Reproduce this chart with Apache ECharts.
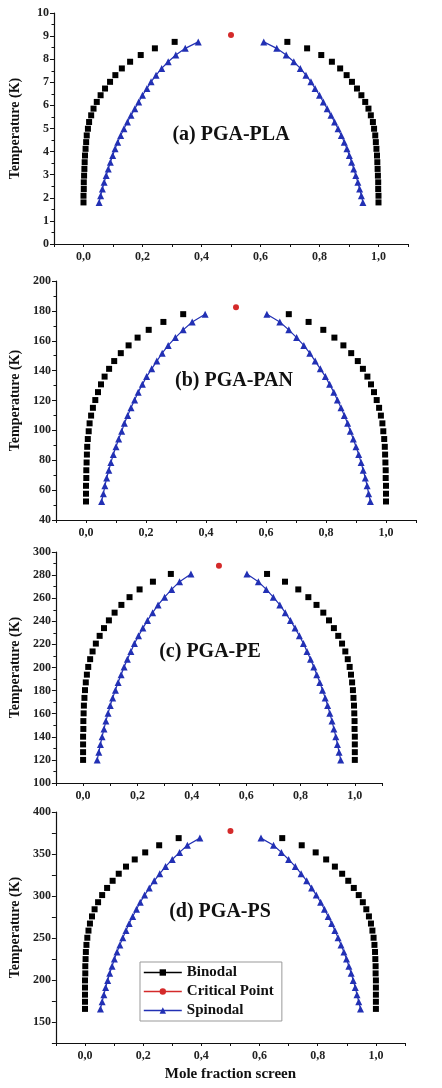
<!DOCTYPE html>
<html>
<head>
<meta charset="utf-8">
<script src="https://cdn.jsdelivr.net/npm/echarts@6/dist/echarts.min.js"></script>
<style>
html,body{margin:0;padding:0;background:#fff;}
#chart{width:442px;height:1088px;}
</style>
</head>
<body>
<div id="chart"></div>
<script>
// ---------- DATA ----------
var xTickLabels = [0, 0.2, 0.4, 0.6, 0.8, 1.0];

// (a) PGA-PLA
var T_a = [1.80, 2.09, 2.38, 2.67, 2.96, 3.25, 3.54, 3.83, 4.12, 4.41, 4.70, 4.99, 5.28, 5.57, 5.86, 6.15, 6.44, 6.73, 7.02, 7.31, 7.60, 7.89, 8.18, 8.47, 8.75];
var binL_a = [0.000, 0.000, 0.001, 0.001, 0.002, 0.003, 0.004, 0.005, 0.007, 0.009, 0.011, 0.015, 0.019, 0.026, 0.034, 0.045, 0.058, 0.073, 0.090, 0.108, 0.130, 0.158, 0.194, 0.242, 0.309];
var binR_a = [1.000, 1.000, 0.999, 0.999, 0.998, 0.997, 0.996, 0.995, 0.993, 0.991, 0.989, 0.985, 0.981, 0.974, 0.966, 0.955, 0.942, 0.927, 0.910, 0.892, 0.870, 0.842, 0.806, 0.758, 0.691];
var spinL_a = [0.053, 0.058, 0.064, 0.070, 0.077, 0.084, 0.091, 0.099, 0.107, 0.116, 0.126, 0.137, 0.149, 0.161, 0.174, 0.187, 0.200, 0.215, 0.229, 0.246, 0.265, 0.287, 0.313, 0.345, 0.389];
var spinR_a = [0.947, 0.942, 0.936, 0.930, 0.923, 0.916, 0.909, 0.901, 0.893, 0.884, 0.874, 0.863, 0.851, 0.839, 0.826, 0.813, 0.800, 0.785, 0.771, 0.754, 0.735, 0.713, 0.687, 0.655, 0.611];
var crit_a = [0.5, 9.05];
var yTicks_a = [0, 1, 2, 3, 4, 5, 6, 7, 8, 9, 10];

// (b) PGA-PAN
var T_b = [52.4, 57.6, 62.9, 68.1, 73.3, 78.5, 83.8, 89.0, 94.2, 99.4, 104.7, 109.9, 115.1, 120.3, 125.6, 130.8, 136.0, 141.2, 146.4, 151.7, 156.9, 162.1, 167.3, 172.6, 177.8];
var binL_b = [0.000, 0.000, 0.000, 0.001, 0.001, 0.002, 0.003, 0.004, 0.006, 0.009, 0.012, 0.017, 0.023, 0.031, 0.040, 0.050, 0.062, 0.077, 0.094, 0.116, 0.142, 0.172, 0.209, 0.258, 0.324];
var binR_b = [1.000, 1.000, 1.000, 0.999, 0.999, 0.998, 0.997, 0.996, 0.994, 0.991, 0.988, 0.983, 0.977, 0.969, 0.960, 0.950, 0.938, 0.923, 0.906, 0.884, 0.858, 0.828, 0.791, 0.742, 0.676];
var spinL_b = [0.052, 0.058, 0.063, 0.069, 0.076, 0.083, 0.091, 0.100, 0.109, 0.119, 0.128, 0.139, 0.150, 0.162, 0.174, 0.188, 0.202, 0.219, 0.236, 0.254, 0.274, 0.298, 0.324, 0.354, 0.397];
var spinR_b = [0.948, 0.942, 0.937, 0.931, 0.924, 0.917, 0.909, 0.900, 0.891, 0.881, 0.872, 0.861, 0.850, 0.838, 0.826, 0.812, 0.798, 0.781, 0.764, 0.746, 0.726, 0.702, 0.676, 0.646, 0.603];
var crit_b = [0.5, 182.5];
var yTicks_b = [40, 60, 80, 100, 120, 140, 160, 180, 200];

// (c) PGA-PE
var T_c = [120.0, 126.7, 133.4, 140.1, 146.8, 153.6, 160.3, 167.0, 173.7, 180.4, 187.1, 193.8, 200.5, 207.2, 213.9, 220.7, 227.4, 234.1, 240.8, 247.5, 254.2, 260.9, 267.6, 274.3, 281.0];
var binL_c = [0.000, 0.000, 0.000, 0.000, 0.001, 0.001, 0.002, 0.003, 0.005, 0.007, 0.010, 0.014, 0.019, 0.026, 0.035, 0.047, 0.061, 0.077, 0.095, 0.116, 0.141, 0.171, 0.208, 0.257, 0.323];
var binR_c = [1.000, 1.000, 1.000, 1.000, 0.999, 0.999, 0.998, 0.997, 0.995, 0.993, 0.990, 0.986, 0.981, 0.974, 0.965, 0.953, 0.939, 0.923, 0.905, 0.884, 0.859, 0.829, 0.792, 0.743, 0.677];
var spinL_c = [0.052, 0.058, 0.064, 0.070, 0.077, 0.084, 0.092, 0.100, 0.109, 0.119, 0.129, 0.140, 0.151, 0.163, 0.176, 0.189, 0.204, 0.220, 0.237, 0.256, 0.276, 0.300, 0.326, 0.355, 0.397];
var spinR_c = [0.948, 0.942, 0.936, 0.930, 0.923, 0.916, 0.908, 0.900, 0.891, 0.881, 0.871, 0.860, 0.849, 0.837, 0.824, 0.811, 0.796, 0.780, 0.763, 0.744, 0.724, 0.700, 0.674, 0.645, 0.603];
var crit_c = [0.5, 288.0];
var yTicks_c = [100, 120, 140, 160, 180, 200, 220, 240, 260, 280, 300];

// (d) PGA-PS
var T_d = [165.6, 174.1, 182.5, 191.0, 199.5, 207.9, 216.4, 224.9, 233.4, 241.8, 250.3, 258.8, 267.2, 275.7, 284.2, 292.6, 301.1, 309.6, 318.1, 326.5, 335.0, 343.5, 351.9, 360.4, 368.9];
var binL_d = [0.000, 0.000, 0.000, 0.000, 0.000, 0.001, 0.001, 0.002, 0.003, 0.005, 0.008, 0.012, 0.017, 0.024, 0.033, 0.045, 0.059, 0.076, 0.095, 0.116, 0.141, 0.171, 0.207, 0.255, 0.322];
var binR_d = [1.000, 1.000, 1.000, 1.000, 1.000, 0.999, 0.999, 0.998, 0.997, 0.995, 0.992, 0.988, 0.983, 0.976, 0.967, 0.955, 0.941, 0.924, 0.905, 0.884, 0.859, 0.829, 0.793, 0.745, 0.678];
var spinL_d = [0.053, 0.059, 0.065, 0.071, 0.078, 0.085, 0.093, 0.101, 0.110, 0.120, 0.130, 0.141, 0.152, 0.164, 0.177, 0.190, 0.205, 0.221, 0.238, 0.257, 0.277, 0.300, 0.325, 0.352, 0.395];
var spinR_d = [0.947, 0.941, 0.935, 0.929, 0.922, 0.915, 0.907, 0.899, 0.890, 0.880, 0.870, 0.859, 0.848, 0.836, 0.823, 0.810, 0.795, 0.779, 0.762, 0.743, 0.723, 0.700, 0.675, 0.648, 0.605];
var crit_d = [0.5, 377.5];
var yTicks_d = [150, 200, 250, 300, 350, 400];

var panelTitles = ['(a) PGA-PLA', '(b) PGA-PAN', '(c) PGA-PE', '(d) PGA-PS'];
var seriesNames = ['Binodal', 'Critical Point', 'Spinodal'];

// ---------- LAYOUT / STYLE ----------
var SERIF = '"Liberation Serif","DejaVu Serif",serif';
var panels = [
  {T: T_a, bL: binL_a, bR: binR_a, sL: spinL_a, sR: spinR_a, c: crit_a, yt: yTicks_a,
   ymin: 0, ymax: 10, yint: 1, minor: true, grid: {left: 53, top: 13, width: 355, height: 231}, title: [231, 135]},
  {T: T_b, bL: binL_b, bR: binR_b, sL: spinL_b, sR: spinR_b, c: crit_b, yt: yTicks_b,
   ymin: 40, ymax: 200, yint: 20, minor: true, grid: {left: 56, top: 281, width: 360, height: 239}, title: [234, 381]},
  {T: T_c, bL: binL_c, bR: binR_c, sL: spinL_c, sR: spinR_c, c: crit_c, yt: yTicks_c,
   ymin: 100, ymax: 300, yint: 20, minor: true, grid: {left: 54, top: 552, width: 328, height: 231}, title: [210, 652]},
  {T: T_d, bL: binL_d, bR: binR_d, sL: spinL_d, sR: spinR_d, c: crit_d, yt: yTicks_d,
   ymin: 125, ymax: 400, yint: 25, minor: false, grid: {left: 51, top: 812, width: 354, height: 231}, title: [220, 912]}
];

function zip(xs, ys) { return xs.map(function (x, i) { return [x, ys[i]]; }); }
function fmt(v) { return v.toFixed(1).replace('.', ','); }

var BLUE = '#2230b4';
var RED = '#d42a2a';
var axisFont = {fontFamily: SERIF, fontWeight: 'bold', fontSize: 12, color: '#222'};

var grids = [], xAxes = [], yAxes = [], series = [], graphics = [];
panels.forEach(function (p, i) {
  grids.push(p.grid);
  xAxes.push({
    type: 'value', gridIndex: i, min: -0.1, max: 1.1, interval: 0.1,
    axisLine: {show: true, onZero: false, lineStyle: {color: '#111', width: 1.2}},
    axisTick: {show: true, length: 3, lineStyle: {color: '#111'}},
    splitLine: {show: false},
    axisLabel: Object.assign({customValues: xTickLabels, margin: 7, formatter: fmt}, axisFont),
    name: i === 3 ? 'Mole fraction screen' : '',
    nameLocation: 'middle', nameGap: 24,
    nameTextStyle: {fontFamily: SERIF, fontWeight: 'bold', fontSize: 15, color: '#111'}
  });
  yAxes.push({
    type: 'value', gridIndex: i, min: p.ymin, max: p.ymax, interval: p.yint,
    axisLine: {show: true, onZero: false, lineStyle: {color: '#111', width: 1.2}},
    axisTick: {show: true, length: 4, lineStyle: {color: '#111'}},
    minorTick: {show: p.minor, splitNumber: 2, length: 2.5, lineStyle: {color: '#111'}},
    splitLine: {show: false},
    axisLabel: Object.assign({customValues: p.yt, margin: 5}, axisFont),
    name: 'Temperature (K)', nameLocation: 'middle', nameGap: 32,
    nameTextStyle: {fontFamily: SERIF, fontWeight: 'bold', fontSize: 14, color: '#111'}
  });
  var common = {type: 'line', xAxisIndex: i, yAxisIndex: i, animation: false, z: 3};
  [p.bL, p.bR].forEach(function (xs) {
    series.push(Object.assign({}, common, {
      name: 'Binodal', data: zip(xs, p.T), symbol: 'rect', symbolSize: 6,
      itemStyle: {color: '#000'}, lineStyle: {color: '#000', width: 0}
    }));
  });
  [p.sL, p.sR].forEach(function (xs) {
    series.push(Object.assign({}, common, {
      name: 'Spinodal', data: zip(xs, p.T), symbol: 'triangle', symbolSize: 7,
      itemStyle: {color: BLUE}, lineStyle: {color: BLUE, width: 1.2}
    }));
  });
  series.push(Object.assign({}, common, {
    name: 'Critical Point', data: [p.c], symbol: 'circle', symbolSize: 6,
    itemStyle: {color: RED}, lineStyle: {color: RED, width: 1.5}
  }));
  graphics.push({
    type: 'text', x: p.title[0], y: p.title[1], z: 10,
    style: {text: panelTitles[i], textAlign: 'center', textVerticalAlign: 'middle',
            font: 'bold 20px ' + SERIF, fill: '#111'}
  });
});

var chart = echarts.init(document.getElementById('chart'), null, {renderer: 'canvas'});
chart.setOption({
  animation: false,
  backgroundColor: '#fff',
  grid: grids,
  xAxis: xAxes,
  yAxis: yAxes,
  series: series,
  graphic: graphics,
  legend: {
    data: seriesNames, orient: 'vertical', left: 140, top: 962,
    itemWidth: 38, itemHeight: 8, itemGap: 4,
    padding: [3, 8, 3, 3],
    borderColor: '#999', borderWidth: 1, backgroundColor: '#fff',
    lineStyle: {width: 1.6},
    textStyle: {fontFamily: SERIF, fontWeight: 'bold', fontSize: 15, color: '#111'}
  }
});
</script>
</body>
</html>
